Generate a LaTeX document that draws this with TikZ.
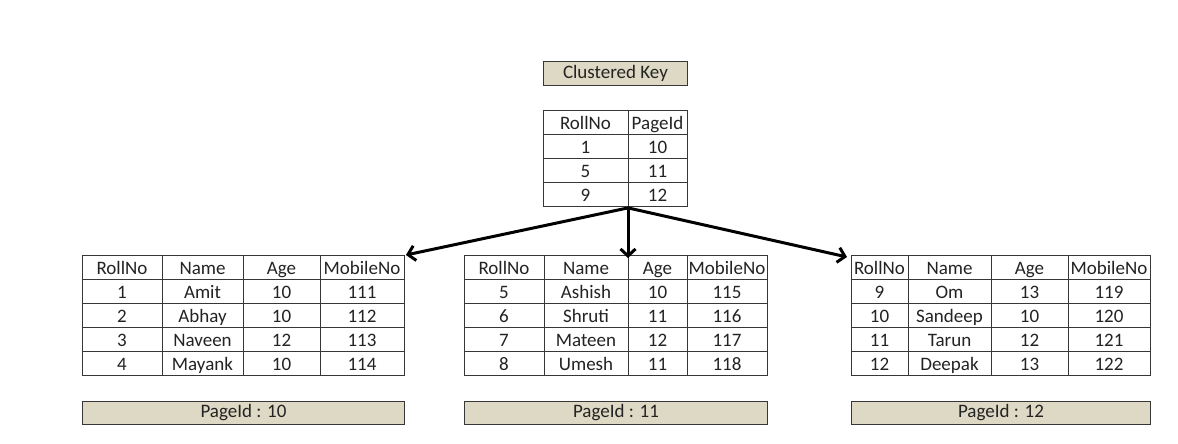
\documentclass[tikz,border=0pt]{standalone}
\usepackage{fontspec}
\setmainfont{Carlito}
\usetikzlibrary{arrows.meta,calc,positioning}
\definecolor{boxtan}{RGB}{221,217,196}
\definecolor{gridline}{RGB}{55,55,55}
\definecolor{txtgray}{RGB}{35,35,35}

\begin{document}
\begin{tikzpicture}[x=1pt,y=-1pt,
  cell/.style={inner sep=0pt,anchor=base,text=txtgray,font=\fontsize{19}{21}\selectfont},
  tabframe/.style={draw=gridline,line width=0.9pt,inner sep=0pt,anchor=north west},
  rule/.style={draw=gridline,line width=0.9pt},
  pagebox/.style={draw=gridline,fill=boxtan,line width=0.9pt,inner sep=0pt,anchor=north west,
                  text=txtgray,font=\fontsize{19}{21}\selectfont},
  arr/.style={line width=3pt,-{Straight Barb[length=7pt,width=15pt]}}]
\useasboundingbox[fill=white] (0,0) rectangle (1178,444);
%Schluessel oben
\node[pagebox,minimum width=144,minimum height=24] (keyhead) at (543,61) {Clustered Key};
\node[tabframe,minimum width=144,minimum height=96] (keytab) at (543,110) {};
\foreach \r in {1,...,3} \draw[rule] ($(keytab.north west)+(0,24*\r)$) -- ++(144,0);
\draw[rule] ($(keytab.north west)+(85,0)$) -- ++(0,96);
\foreach \a/\b [count=\i] in {RollNo/PageId,1/10,5/11,9/12}{
  \node[cell] (K-\i-1) at ($(keytab.north west)+(42.5,24*\i-5)$) {\a};
  \node[cell] (K-\i-2) at ($(keytab.north west)+(114.5,24*\i-5)$) {\b};
}
%Seite 10
\node[tabframe,minimum width=322,minimum height=120] (pageA) at (82,255) {};
\foreach \r in {1,...,4} \draw[rule] ($(pageA.north west)+(0,24*\r)$) -- ++(322,0);
\foreach \c in {80,161,238} \draw[rule] ($(pageA.north west)+(\c,0)$) -- ++(0,120);
\foreach \a/\b/\c/\d [count=\i] in {RollNo/Name/Age/MobileNo,1/Amit/10/111,2/Abhay/10/112,3/Naveen/12/113,4/Mayank/10/114}{
  \node[cell] (A-\i-1) at ($(pageA.north west)+(40,24*\i-5)$) {\a};
  \node[cell] (A-\i-2) at ($(pageA.north west)+(120.5,24*\i-5)$) {\b};
  \node[cell] (A-\i-3) at ($(pageA.north west)+(199.5,24*\i-5)$) {\c};
  \node[cell] (A-\i-4) at ($(pageA.north west)+(280,24*\i-5)$) {\d};
}
\node[pagebox,minimum width=322,minimum height=23] (idA) at (82,401) {PageId : 10};
%Seite 11
\node[tabframe,minimum width=303,minimum height=120] (pageB) at (464,255) {};
\foreach \r in {1,...,4} \draw[rule] ($(pageB.north west)+(0,24*\r)$) -- ++(303,0);
\foreach \c in {80,164,223} \draw[rule] ($(pageB.north west)+(\c,0)$) -- ++(0,120);
\foreach \a/\b/\c/\d [count=\i] in {RollNo/Name/Age/MobileNo,5/Ashish/10/115,6/Shruti/11/116,7/Mateen/12/117,8/Umesh/11/118}{
  \node[cell] (B-\i-1) at ($(pageB.north west)+(40,24*\i-5)$) {\a};
  \node[cell] (B-\i-2) at ($(pageB.north west)+(122,24*\i-5)$) {\b};
  \node[cell] (B-\i-3) at ($(pageB.north west)+(193.5,24*\i-5)$) {\c};
  \node[cell] (B-\i-4) at ($(pageB.north west)+(263,24*\i-5)$) {\d};
}
\node[pagebox,minimum width=303,minimum height=23] (idB) at (464,401) {PageId : 11};
%Seite 12
\node[tabframe,minimum width=299,minimum height=120] (pageC) at (851,255) {};
\foreach \r in {1,...,4} \draw[rule] ($(pageC.north west)+(0,24*\r)$) -- ++(299,0);
\foreach \c in {57,140,217} \draw[rule] ($(pageC.north west)+(\c,0)$) -- ++(0,120);
\foreach \a/\b/\c/\d [count=\i] in {RollNo/Name/Age/MobileNo,9/Om/13/119,10/Sandeep/10/120,11/Tarun/12/121,12/Deepak/13/122}{
  \node[cell] (C-\i-1) at ($(pageC.north west)+(28.5,24*\i-5)$) {\a};
  \node[cell] (C-\i-2) at ($(pageC.north west)+(98.5,24*\i-5)$) {\b};
  \node[cell] (C-\i-3) at ($(pageC.north west)+(178.5,24*\i-5)$) {\c};
  \node[cell] (C-\i-4) at ($(pageC.north west)+(258,24*\i-5)$) {\d};
}
\node[pagebox,minimum width=299,minimum height=23] (idC) at (851,401) {PageId : 12};
%Pfeile
\coordinate (split) at ($(keytab.south west)+(85,1)$);
\draw[arr] (split) -- ([xshift=1pt]pageA.north east);
\draw[arr] (split) -- ([yshift=-3pt]split |- pageB.north);
\draw[arr] (split) -- ([xshift=-4pt,yshift=-2pt]pageC.north west);
\end{tikzpicture}
\end{document}
